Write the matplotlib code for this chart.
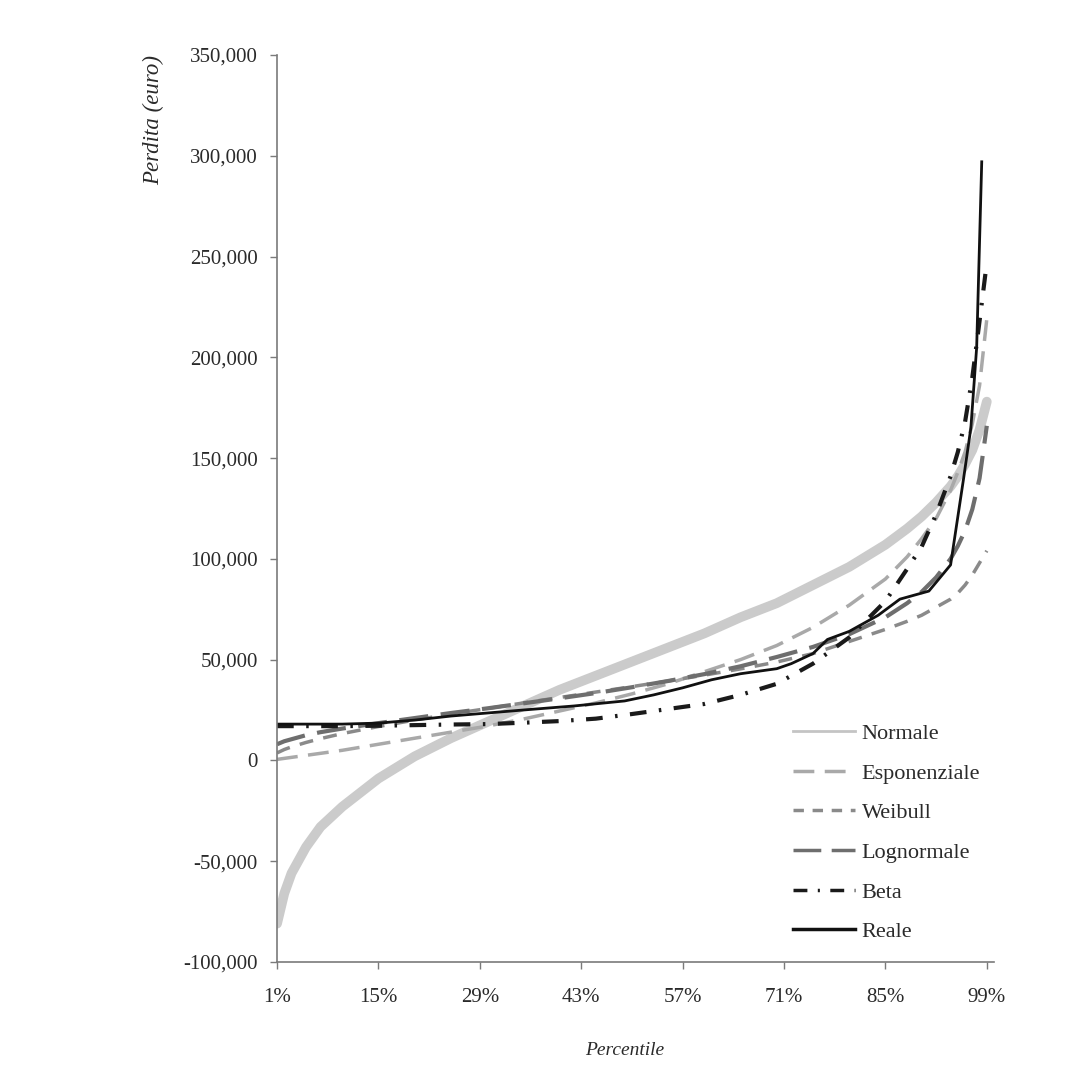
import numpy as np
import matplotlib.pyplot as plt
from matplotlib.lines import Line2D
from matplotlib.ticker import FuncFormatter

plt.rcParams['font.family'] = ['Liberation Serif', 'DejaVu Serif']

# percentili usati per le curve teoriche
pct = [1, 2, 3, 5, 7, 10, 15, 20, 25, 30, 35, 40, 45, 50, 55, 60, 65, 70,
       75, 80, 85, 88, 90, 92, 94, 95, 96, 97, 98, 99]

# quantili (migliaia di euro)
normale = [-81, -66, -56, -43, -33, -23, -9, 2, 11, 19, 27, 35, 42, 49, 56, 63,
           71, 78, 87, 96, 107, 115, 121, 128, 136, 141, 147, 154, 164, 178]
esponenziale = [0.5, 1, 1.5, 2.5, 3.5, 5, 8, 11, 14, 17, 20.5, 24.5, 28.5, 33,
                38, 44, 50, 57, 66, 77, 90, 101, 110, 120, 134, 143, 153, 167,
                186, 219]
weibull = [3.7, 5.4, 6.7, 8.9, 10.8, 13.3, 16.8, 20, 23, 25.7, 28.5, 31.2,
           33.9, 36.6, 39.4, 42.3, 45.4, 48.8, 53, 59, 65, 69, 72, 76, 80, 83,
           87, 92, 98, 104]
lognormale = [8, 9.5, 10.5, 12.5, 14, 15.8, 18.5, 21, 23.5, 25.8, 28.3, 30.8,
              33.4, 36.3, 39.4, 42.8, 46.7, 51.3, 56.3, 62.6, 71, 78, 83.6,
              90.8, 100, 106.4, 114, 124.6, 140, 166]
beta = [17, 17, 17, 17, 17, 17, 17.2, 17.5, 17.8, 18, 18.7, 19.5, 20.7, 23,
        25.5, 28, 32.5, 38, 48, 61, 79, 95, 106, 122, 141, 153, 168, 190, 218,
        247]

# perdite reali
reale_pct = [1, 5, 10, 15, 20, 25, 30, 35, 42, 49, 53, 57, 61, 65, 70, 72, 75,
             77, 80, 84, 87, 91, 94, 95.8, 96.8, 97.6, 98.3]
reale = [18, 18, 18, 18.5, 20, 22, 23.5, 25, 27, 29.5, 32.5, 36, 40, 43, 45.5,
         48, 53, 60, 64, 72, 80, 84, 97, 140, 165, 205, 297]

xtick_pos = [1, 15, 29, 43, 57, 71, 85, 99]
xtick_lab = ['1%', '15%', '29%', '43%', '57%', '71%', '85%', '99%']

fig = plt.figure(figsize=(10.92, 10.91), dpi=100)
ax = fig.add_axes([0.2537, 0.1183, 0.6566, 0.8313])

k = 1000
ax.plot(pct, np.array(normale) * k, color='#cbcbcb', lw=7, solid_capstyle='round')
ax.plot(pct, np.array(esponenziale) * k, color='#a9a9a9', lw=2.5, ls=(0, (6, 3)))
ax.plot(pct, np.array(weibull) * k, color='#8a8a8a', lw=2.5, ls=(0, (4, 3)))
ax.plot(pct, np.array(lognormale) * k, color='#6e6e6e', lw=3, ls=(0, (7, 3)))
ax.plot(pct, np.array(beta) * k, color='#1a1a1a', lw=3, ls=(0, (4, 3, 0.6, 3)))
ax.plot(reale_pct, np.array(reale) * k, color='#111111', lw=2)

ax.set_xlim(1, 100)
ax.set_ylim(-100000, 350000)
ax.set_xticks(xtick_pos)
ax.set_xticklabels(xtick_lab)
ax.set_yticks(np.arange(-100000, 350001, 50000))
ax.yaxis.set_major_formatter(FuncFormatter(lambda v, p: f'{int(v):,}'))

for s in ['top', 'right']:
    ax.spines[s].set_visible(False)
for s in ['left', 'bottom']:
    ax.spines[s].set_color('#7a7a7a')
    ax.spines[s].set_linewidth(1.2)
ax.tick_params(axis='both', colors='#7a7a7a', length=5, width=1, labelcolor='#2a2a2a',
               labelsize=15)
ax.tick_params(axis='x', pad=14)
ax.tick_params(axis='y', pad=9)

fig.text(0.141, 0.890, 'Perdita (euro)', rotation=90, style='italic',
         fontsize=16.5, color='#2a2a2a', ha='center', va='center')
fig.text(0.572, 0.037, 'Percentile', style='italic', fontsize=14,
         color='#2a2a2a', ha='center', va='center')

handles = [
    Line2D([], [], color='#c4c4c4', lw=2),
    Line2D([], [], color='#a9a9a9', lw=2.5, ls=(0, (6, 3))),
    Line2D([], [], color='#8a8a8a', lw=2.5, ls=(0, (3, 2.5))),
    Line2D([], [], color='#6e6e6e', lw=2.5, ls=(0, (8, 3))),
    Line2D([], [], color='#1a1a1a', lw=2.5, ls=(0, (4, 3, 0.6, 3))),
    Line2D([], [], color='#111111', lw=2.5),
]
labels = ['Normale', 'Esponenziale', 'Weibull', 'Lognormale', 'Beta', 'Reale']
leg = fig.legend(handles, labels, loc='upper left', bbox_to_anchor=(0.726, 0.337),
                 frameon=False, fontsize=16, handlelength=2.8, handletextpad=0.3,
                 labelspacing=0.86, borderpad=0, borderaxespad=0)
for t in leg.get_texts():
    t.set_color('#2a2a2a')

fig.savefig('out.png', dpi=100, facecolor='white')
